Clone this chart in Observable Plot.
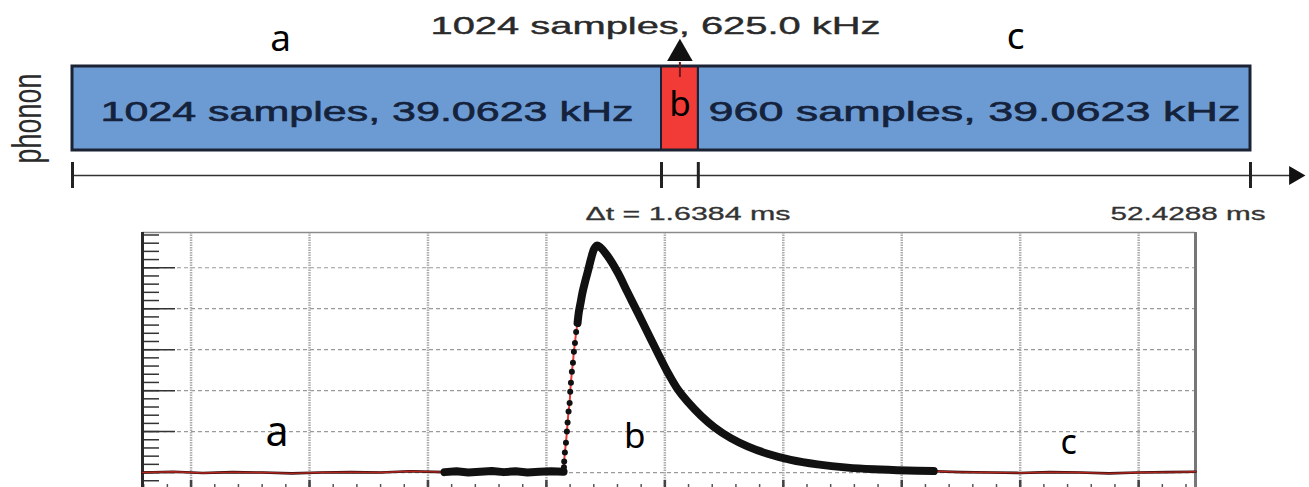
<!DOCTYPE html>
<html><head><meta charset="utf-8">
<script src="https://cdn.jsdelivr.net/npm/d3@7"></script>
<script src="https://cdn.jsdelivr.net/npm/@observablehq/plot@0.6"></script>
<style>
html,body{margin:0;padding:0;background:#fff;overflow:hidden;width:1309px;height:487px;}
#chart svg{display:block;max-width:none !important;}
</style></head><body><div id="chart"></div>
<script>
// ---------- top diagram (acquisition window) ----------
const segNames = ["a", "b", "c"];
const segStart = [0, 26.2144, 27.8528];        // ms
const segEnd   = [26.2144, 27.8528, 52.4288];  // ms
const segText  = ["1024 samples, 39.0623 kHz", "", "960 samples, 39.0623 kHz"];
const fastText = "1024 samples, 625.0 kHz";
const timeTicks = [0, 26.2144, 27.8528, 52.4288];
const dtLabel = "Δt = 1.6384 ms";
const endLabel = "52.4288 ms";
const channelLabel = "phonon";

// ---------- bottom pulse ----------
const baseAX = [-4.1, -1.5, 1.0, 3.5, 6.0, 8.5, 11.0, 13.5, 16.0, 18.5, 21.4];
const baseAY = [0.00, 0.02, -0.01, 0.01, 0.00, -0.02, 0.00, 0.01, 0.00, 0.03, 0.01];
const preX = [21.4, 22.4, 23.4, 24.4, 25.4, 26.4, 27.4, 28.4, 29.4, 30.4, 31.45];
const preY = [0.01, 0.03, 0.00, 0.02, 0.04, 0.01, 0.03, 0.00, 0.02, 0.03, 0.02];
const riseX = [31.48, 31.50, 31.56, 31.65, 31.73, 31.79, 31.87, 31.96, 32.01, 32.07, 32.15, 32.24, 32.32, 32.41, 32.51, 32.63, 32.74];
const riseY = [0.13, 0.27, 0.49, 0.73, 1.00, 1.22, 1.49, 1.70, 1.97, 2.19, 2.46, 2.68, 2.95, 3.16, 3.43, 3.65, 3.92];
const pulseX = [32.63, 32.74, 32.89, 33.05, 33.25, 33.48, 33.76, 34.03, 34.26, 34.51, 35.16, 36.01, 36.85, 37.70, 38.54, 39.38, 40.23, 41.07, 41.92, 43.04, 44.16, 45.57, 46.98, 48.67, 50.63, 52.89, 55.42, 57.66, 60.48, 62.70];
const pulseY = [3.65, 3.92, 4.15, 4.40, 4.64, 4.89, 5.21, 5.46, 5.54, 5.51, 5.29, 4.89, 4.40, 3.91, 3.42, 2.93, 2.45, 2.04, 1.73, 1.39, 1.11, 0.84, 0.64, 0.46, 0.31, 0.20, 0.12, 0.08, 0.05, 0.035];
const baseCX = [62.7, 65.0, 67.5, 70.0, 72.5, 75.0, 77.5, 80.0, 82.5, 84.8];
const baseCY = [0.03, 0.01, 0.00, -0.01, 0.01, 0.00, -0.02, 0.00, 0.01, 0.02];

const xGrid = [0, 10, 20, 30, 40, 50, 60, 70, 80];
const yGrid = [0, 1, 2, 3, 4, 5];
const xMinor = [-4, -2, 0, 2, 4, 6, 8, 10, 12, 14, 16, 18, 20, 22, 24, 26, 28, 30, 32, 34, 36, 38, 40, 42, 44, 46, 48, 50, 52, 54, 56, 58, 60, 62, 64, 66, 68, 70, 72, 74, 76, 78, 80, 82, 84];
const yMinor = [-0.4, -0.2, 0, 0.2, 0.4, 0.6, 0.8, 1, 1.2, 1.4, 1.6, 1.8, 2, 2.2, 2.4, 2.6, 2.8, 3, 3.2, 3.4, 3.6, 3.8, 4, 4.2, 4.4, 4.6, 4.8, 5, 5.2, 5.4, 5.6, 5.8];

const pts = (xs, ys) => xs.map((x, i) => ({x, y: ys[i]}));
const seg = segNames.map((n, i) => ({name: n, start: segStart[i], end: segEnd[i], text: segText[i], mid: (segStart[i] + segEnd[i]) / 2}));
const midB = seg[1].mid;

const helv = "Liberation Sans, Arial, sans-serif";
const calib = "Noto Sans, Open Sans, sans-serif";
const edge = "#1b2233";
const navy = "#15223c";

const topPlot = Plot.plot({
  width: 1309, height: 225,
  marginLeft: 72, marginRight: 59, marginTop: 66, marginBottom: 75,
  x: {domain: [0, segEnd[2]], axis: null},
  y: {domain: [0, 1], axis: null},
  style: {background: "transparent", overflow: "visible"},
  marks: [
    Plot.rect(seg, {filter: d => d.name !== "b", x1: "start", x2: "end", y1: 0, y2: 1, fill: "#6c9bd3", stroke: edge, strokeWidth: 2}),
    Plot.rect(seg, {filter: d => d.name === "b", x1: "start", x2: "end", y1: 0, y2: 1, fill: "#f23b37", stroke: edge, strokeWidth: 2}),
    Plot.rect([segStart[0]], {x1: segStart[0], x2: segEnd[2], y1: 0, y2: 1, fill: "none", stroke: edge, strokeWidth: 3}),
    Plot.text(seg, {filter: d => d.text, x: "mid", y: 0, dy: -30, lineAnchor: "bottom", text: "text", fontSize: 28, fontFamily: helv, fill: navy, stroke: navy, strokeWidth: 0.6}),
    Plot.text([fastText], {x: segStart[1], dx: -6, y: 1, dy: -33, lineAnchor: "bottom", text: d => d, fontSize: 24, fontFamily: helv, fill: "#2a2a2a", stroke: "#2a2a2a", strokeWidth: 0.4}),
    // upward arrow from the fast segment
    Plot.ruleX([midB], {insetTop: -4, insetBottom: 73, stroke: "#6b1a1a", strokeWidth: 2}),
    Plot.dot([midB], {x: d => d, y: 1, dy: -13, symbol: "triangle", r: 9.5, fill: "#111", stroke: "none"}),
    // letters
    Plot.text(["a"], {x: 9.26, y: 1, dy: -16, lineAnchor: "bottom", text: d => d, fontSize: 37, fontFamily: calib, fill: "#000"}),
    Plot.text(["c"], {x: 41.97, y: 1, dy: -18, lineAnchor: "bottom", text: d => d, fontSize: 37, fontFamily: calib, fill: "#000"}),
    Plot.text(["b"], {x: midB, y: 0, dy: -35, lineAnchor: "bottom", text: d => d, fontSize: 35, fontFamily: calib, fill: "#000"}),
    // channel label
    Plot.text([channelLabel], {x: 0, dx: -44, y: 0.5, dy: 10, rotate: -90, lineAnchor: "middle", text: d => d, fontSize: 40, fontFamily: helv, fill: "#2a2a2a"}),
    // time line
    Plot.ruleY([0], {x1: 0, x2: 54.21, dy: 25, stroke: "#333", strokeWidth: 1.5}),
    Plot.dot([0], {x: 54.39, y: 0, dy: 25, symbol: "triangle", rotate: 90, r: 7, fill: "#111", stroke: "none"}),
    Plot.ruleX(timeTicks, {insetTop: 96, insetBottom: -38, stroke: "#222", strokeWidth: 3}),
    Plot.text([dtLabel], {x: midB, dx: 8, y: 0, dy: 69, lineAnchor: "bottom", text: d => d, fontSize: 18, fontFamily: helv, fill: "#333", stroke: "#333", strokeWidth: 0.3}),
    Plot.text([endLabel], {x: segEnd[2], dx: 15, y: 0, dy: 69, lineAnchor: "bottom", textAnchor: "end", text: d => d, fontSize: 18, fontFamily: helv, fill: "#333", stroke: "#333", strokeWidth: 0.3})
  ]
});

const stretchMap = {
  "1024 samples, 39.0623 kHz": 533,
  "960 samples, 39.0623 kHz": 532,
  "1024 samples, 625.0 kHz": 450,
  "Δt = 1.6384 ms": 205,
  "52.4288 ms": 155,
  "phonon": 90
};
topPlot.querySelectorAll("text").forEach(t => {
  const L = stretchMap[t.textContent];
  if (L) { t.setAttribute("textLength", L); t.setAttribute("lengthAdjust", "spacingAndGlyphs"); }
});

const xDom = [-4.1, 84.8], yDom = [-0.463, 5.861];
const innerW = 1309 - 142 - 114, innerH = 280 - 7 - 14;

const botPlot = Plot.plot({
  width: 1309, height: 280,
  marginLeft: 142, marginRight: 114, marginTop: 7, marginBottom: 14,
  x: {domain: xDom, axis: null},
  y: {domain: yDom, axis: null},
  style: {background: "transparent", overflow: "visible"},
  marks: [
    Plot.ruleY(yGrid, {stroke: "#9a9a9a", strokeDasharray: "4,3", strokeWidth: 1.2}),
    Plot.ruleX(xGrid, {stroke: "#adadad", strokeWidth: 2.5, strokeDasharray: "1.5,1"}),
    Plot.tickY(yMinor, {insetRight: innerW - 17, stroke: "#333", strokeWidth: 1.5}),
    Plot.tickY(yGrid, {insetRight: innerW - 33, stroke: "#333", strokeWidth: 1.5}),
    Plot.tickX(xMinor, {insetTop: innerH - 7, stroke: "#555", strokeWidth: 1.5}),
    Plot.tickX(xGrid, {insetTop: innerH - 11, stroke: "#444", strokeWidth: 2.5}),
    Plot.ruleY([yDom[1]], {stroke: "#8a8a8a", strokeWidth: 1.5}),
    Plot.ruleX([xDom[1]], {stroke: "#777", strokeWidth: 3}),
    Plot.ruleY([yDom[0]], {stroke: "#333", strokeWidth: 2}),
    Plot.ruleX([xDom[0]], {stroke: "#2a2a2a", strokeWidth: 3}),
    // thin baselines (regions a and c)
    Plot.line(pts(baseAX, baseAY), {x: "x", y: "y", stroke: "#2a0c0c", strokeWidth: 2.6}),
    Plot.line(pts(baseAX, baseAY), {x: "x", y: "y", stroke: "#b3261e", strokeWidth: 1.4}),
    Plot.line(pts(baseCX, baseCY), {x: "x", y: "y", stroke: "#2a0c0c", strokeWidth: 2.6}),
    Plot.line(pts(baseCX, baseCY), {x: "x", y: "y", stroke: "#b3261e", strokeWidth: 1.4}),
    // fit through the rise
    Plot.line(pts(riseX, riseY).concat(pts(pulseX, pulseY)), {x: "x", y: "y", stroke: "#e53935", strokeWidth: 2, curve: "catmull-rom"}),
    // dense samples
    Plot.line(pts(preX, preY), {x: "x", y: "y", stroke: "#111", strokeWidth: 8, strokeLinecap: "round"}),
    Plot.line(pts(pulseX, pulseY), {x: "x", y: "y", stroke: "#111", strokeWidth: 8, strokeLinecap: "round", curve: "catmull-rom"}),
    Plot.dot(pts(riseX, riseY), {x: "x", y: "y", r: 3, fill: "#111", stroke: "none"}),
    // region letters
    Plot.text(["a"], {x: 7.26, y: 0.66, lineAnchor: "bottom", text: d => d, fontSize: 41, fontFamily: calib, fill: "#000"}),
    Plot.text(["b"], {x: 37.47, y: 0.61, lineAnchor: "bottom", text: d => d, fontSize: 35, fontFamily: calib, fill: "#000"}),
    Plot.text(["c"], {x: 74.09, y: 0.46, lineAnchor: "bottom", text: d => d, fontSize: 34, fontFamily: calib, fill: "#000"})
  ]
});

const host = document.getElementById("chart");
host.appendChild(topPlot);
host.appendChild(botPlot);
</script>
</body></html>
